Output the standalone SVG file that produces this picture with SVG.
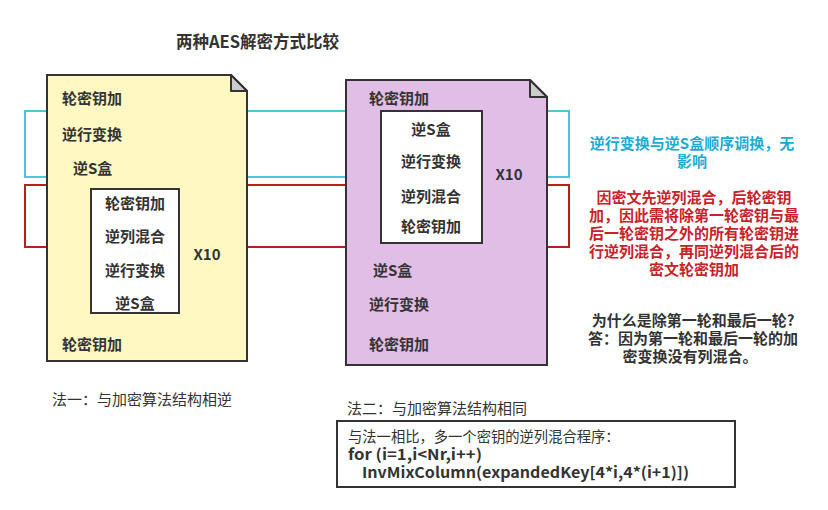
<svg xmlns="http://www.w3.org/2000/svg" width="828" height="510" viewBox="0 0 828 510">
<style>
text{font-family:"Noto Sans CJK SC","Microsoft YaHei",sans-serif;font-size:15px;fill:#333;dominant-baseline:central}
.b{font-weight:bold}
.c{text-anchor:middle}
.doc{stroke:#333;stroke-width:2}
.fold{fill:#ccc;stroke:#333;stroke-width:2;stroke-linejoin:round}
.inner{fill:#fff;stroke:#333;stroke-width:2}
.cy{fill:#1AADD1}
.rd{fill:#C8222A}
</style>
<rect width="828" height="510" fill="#fff"/>
<g id="connectors" fill="none" stroke-width="2">
<rect x="25" y="111" width="544" height="66" stroke="#4CC7DA"/>
<rect x="25" y="185" width="544" height="62" stroke="#B81E1E"/>
</g>
<text id="title" class="b" x="176" y="41" style="font-size:16.5px">两种AES解密方式比较</text>
<g id="doc1">
<path class="doc" fill="#FFF8C2" d="M47 75H231L247 91V361H47Z"/>
<path class="fold" d="M231 75V91H247Z"/>
<text class="b" x="62" y="97">轮密钥加</text>
<text class="b" x="62" y="133">逆行变换</text>
<text class="b" x="73" y="167">逆S盒</text>
<text class="b" x="62" y="343">轮密钥加</text>
<text class="b c" x="207" y="253">X10</text>
</g>
<g id="inner1">
<rect class="inner" x="91" y="189" width="88" height="124"/>
<text class="b c" x="135" y="202">轮密钥加</text>
<text class="b c" x="135" y="235">逆列混合</text>
<text class="b c" x="135" y="269">逆行变换</text>
<text class="b c" x="135" y="302">逆S盒</text>
</g>
<g id="doc2">
<path class="doc" fill="#E1BEE6" d="M346 80H530L547 97V365H346Z"/>
<path class="fold" d="M530 80V97H547Z"/>
<text class="b" x="369" y="97">轮密钥加</text>
<text class="b c" x="509" y="173">X10</text>
<text class="b" x="373" y="269">逆S盒</text>
<text class="b" x="369" y="303">逆行变换</text>
<text class="b" x="369" y="343">轮密钥加</text>
</g>
<g id="inner2">
<rect class="inner" x="381" y="111" width="101" height="132"/>
<text class="b c" x="431" y="128">逆S盒</text>
<text class="b c" x="431" y="160">逆行变换</text>
<text class="b c" x="431" y="195">逆列混合</text>
<text class="b c" x="431" y="225">轮密钥加</text>
</g>
<g id="note-cyan">
<text class="b c cy" x="692" y="142">逆行变换与逆S盒顺序调换，无<tspan x="692" dy="17.5">影响</tspan></text>
</g>
<g id="note-red">
<text class="b c rd" x="694" y="196">因密文先逆列混合，后轮密钥<tspan x="694" dy="18">加，因此需将除第一轮密钥与最</tspan><tspan x="694" dy="18">后一轮密钥之外的所有轮密钥进</tspan><tspan x="694" dy="18">行逆列混合，再同逆列混合后的</tspan><tspan x="694" dy="17.5">密文轮密钥加</tspan></text>
</g>
<g id="note-why">
<text class="b c" x="693" y="319">为什么是除第一轮和最后一轮?<tspan x="693" dy="18">答：因为第一轮和最后一轮的加</tspan><tspan x="690" dy="18">密变换没有列混合。</tspan></text>
</g>
<g id="label1"><text x="52" y="398">法一：与加密算法结构相逆</text></g>
<g id="label2"><text x="347" y="407">法二：与加密算法结构相同</text></g>
<g id="codebox">
<rect x="337" y="421" width="398" height="66" fill="#fff" stroke="#333" stroke-width="2"/>
<text x="348" y="435" style="font-size:14.3px">与法一相比，多一个密钥的逆列混合程序：<tspan class="b" x="348" dy="18" style="font-size:15px" textLength="134" lengthAdjust="spacingAndGlyphs">for (i=1,i&lt;Nr,i++)</tspan><tspan class="b" x="362" dy="18" style="font-size:15px" textLength="327" lengthAdjust="spacingAndGlyphs">InvMixColumn(expandedKey[4*i,4*(i+1)])</tspan></text>
</g>
</svg>
